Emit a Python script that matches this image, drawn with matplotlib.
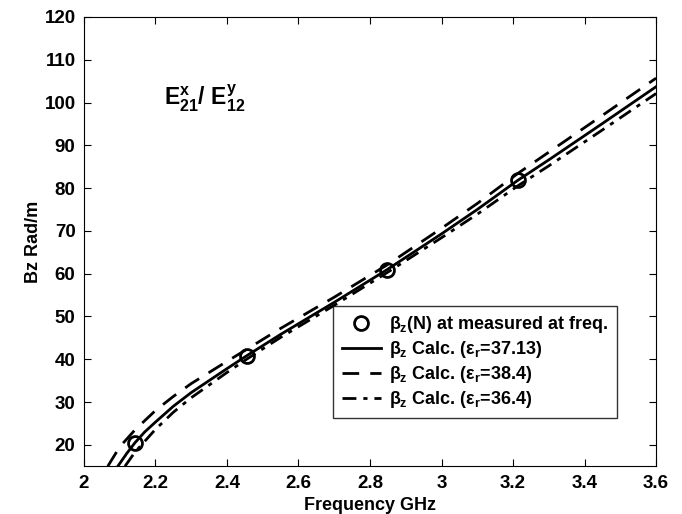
import matplotlib.pyplot as plt

plt.rcParams['font.family'] = ['Liberation Sans', 'DejaVu Sans']
plt.rcParams['font.weight'] = 'bold'
plt.rcParams['mathtext.fontset'] = 'custom'
plt.rcParams['mathtext.rm'] = 'Liberation Sans:bold'
plt.rcParams['mathtext.it'] = 'Liberation Sans:bold'
plt.rcParams['mathtext.bf'] = 'Liberation Sans:bold'

# measured points
meas_f = [2.143, 2.455, 2.847, 3.213]
meas_b = [20.5, 40.8, 60.9, 82.0]

# calculated, er = 37.13
calc_f = [2.095, 2.12, 2.143, 2.17, 2.2, 2.25, 2.3, 2.4, 2.455, 2.55, 2.7, 2.847, 3.0, 3.1, 3.213, 3.3, 3.45, 3.6]
calc_b = [15.0, 18.0, 20.5, 23.0, 25.3, 29.0, 32.2, 37.8, 40.8, 45.8, 53.3, 60.9, 69.3, 75.0, 81.8, 86.6, 95.1, 103.7]

# er = 38.4
hi_f = [2.067, 2.1, 2.143, 2.2, 2.25, 2.3, 2.4, 2.455, 2.55, 2.7, 2.847, 3.0, 3.1, 3.213, 3.3, 3.45, 3.6]
hi_b = [15.0, 19.5, 23.5, 28.0, 31.3, 34.3, 39.5, 42.3, 47.2, 54.5, 62.0, 70.6, 76.4, 83.4, 88.4, 97.0, 105.7]

# er = 36.4
lo_f = [2.115, 2.143, 2.2, 2.25, 2.3, 2.4, 2.455, 2.55, 2.7, 2.847, 3.0, 3.1, 3.213, 3.3, 3.45, 3.6]
lo_b = [15.0, 18.3, 23.6, 27.6, 31.0, 36.9, 40.0, 45.1, 52.6, 60.2, 68.4, 73.9, 80.5, 85.2, 93.6, 102.1]

xticks = [2, 2.2, 2.4, 2.6, 2.8, 3, 3.2, 3.4, 3.6]
xlabels = ['2', '2.2', '2.4', '2.6', '2.8', '3', '3.2', '3.4', '3.6']
yticks = [20, 30, 40, 50, 60, 70, 80, 90, 100, 110, 120]

fig = plt.figure(figsize=(6.82, 5.14), dpi=100)
ax = fig.add_axes([0.123, 0.093, 0.839, 0.874])

ax.plot(meas_f, meas_b, 'o', mfc='none', mec='k', ms=10, mew=2,
        label=r'$\beta_z$(N) at measured at freq.')
ax.plot(calc_f, calc_b, '-', color='k', lw=2,
        label=r'$\beta_z$ Calc. ($\varepsilon_r$=37.13)')
ax.plot(hi_f, hi_b, color='k', lw=2, dashes=(6, 4),
        label=r'$\beta_z$ Calc. ($\varepsilon_r$=38.4)')
ax.plot(lo_f, lo_b, color='k', lw=2, dashes=(5, 2.5, 1.5, 2.5),
        label=r'$\beta_z$ Calc. ($\varepsilon_r$=36.4)')

ax.set_xlim(2, 3.6)
ax.set_ylim(15, 120)
ax.set_xticks(xticks)
ax.set_xticklabels(xlabels)
ax.set_yticks(yticks)
ax.tick_params(direction='in', top=True, right=True, labelsize=13.5, length=5, pad=6)
for lab in ax.get_xticklabels() + ax.get_yticklabels():
    lab.set_fontweight('bold')

ax.set_xlabel('Frequency GHz', fontsize=13, fontweight='bold', labelpad=4)
ax.set_ylabel('Bz Rad/m', fontsize=13, fontweight='bold', labelpad=2)

ax.text(2.225, 101, r'$\mathrm{E}^{\mathrm{x}}_{21}$/ $\mathrm{E}^{\mathrm{y}}_{12}$',
        fontsize=16.5, va='center')

leg = ax.legend(loc='lower right', bbox_to_anchor=(0.932, 0.107), fontsize=13,
                frameon=True, fancybox=False, edgecolor='k', handlelength=2.2,
                labelspacing=0.22, borderpad=0.45, handletextpad=0.45,
                borderaxespad=0)
leg.get_frame().set_linewidth(1)

fig.savefig('out.png', dpi=100)
